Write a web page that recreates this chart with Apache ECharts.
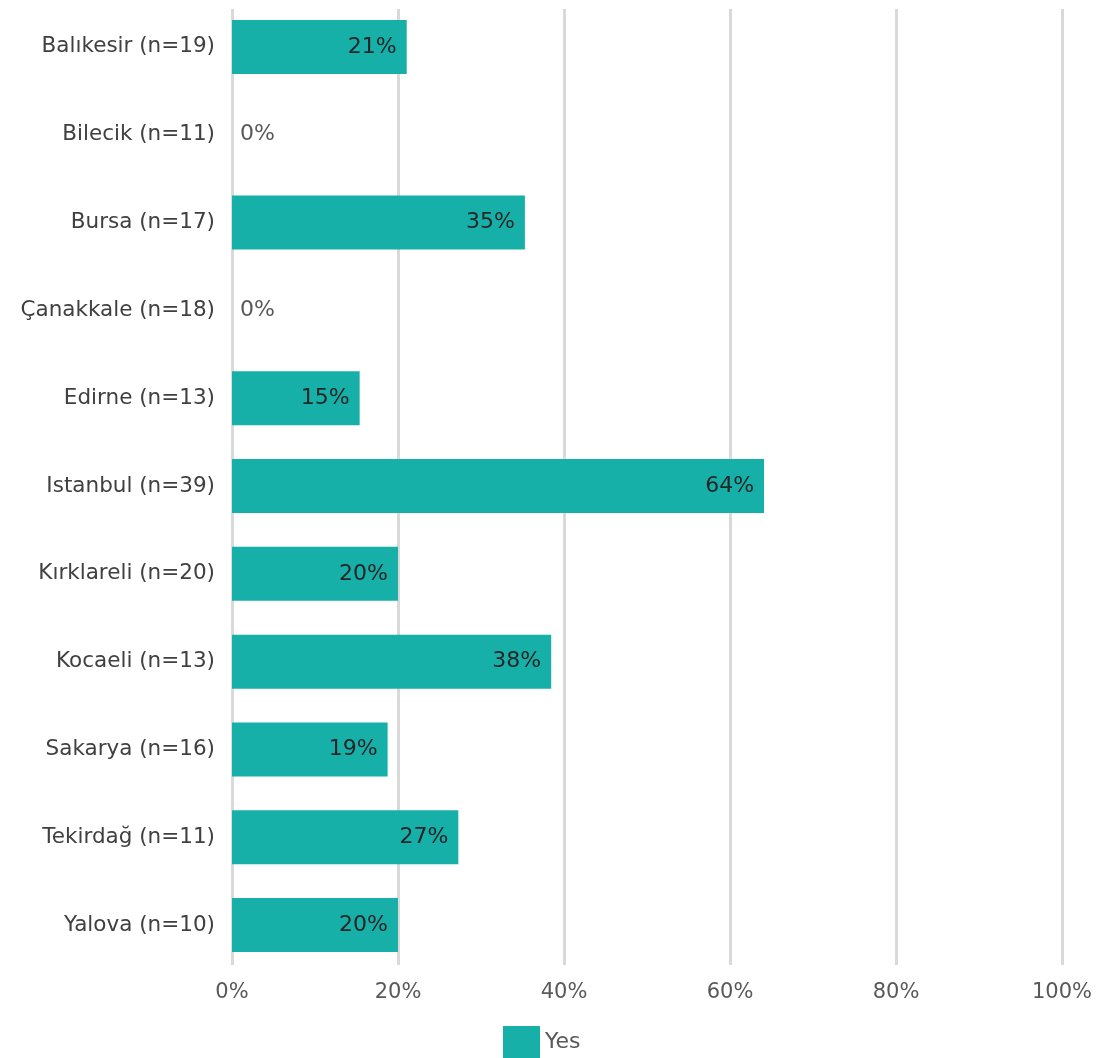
<!DOCTYPE html>
<html>
<head>
<meta charset="utf-8">
<script src="https://cdn.jsdelivr.net/npm/echarts@6/dist/echarts.min.js"></script>
<style>
  html, body { margin: 0; padding: 0; background: #ffffff; }
  #chart { width: 1102px; height: 1058px; }
</style>
</head>
<body>
<div id="chart"></div>
<script>
// Provinces with sample sizes, top to bottom
const provinces = [
  'Balıkesir (n=19)', 'Bilecik (n=11)', 'Bursa (n=17)', 'Çanakkale (n=18)',
  'Edirne (n=13)', 'Istanbul (n=39)', 'Kırklareli (n=20)', 'Kocaeli (n=13)',
  'Sakarya (n=16)', 'Tekirdağ (n=11)', 'Yalova (n=10)'
];
// Share answering "Yes", in percent
const yesShare = [21.05, 0, 35.29, 0, 15.38, 64.10, 20.00, 38.46, 18.75, 27.27, 20.00];
const seriesName = 'Yes';
const xTicks = [0, 20, 40, 60, 80, 100];

const FONT = 'DejaVu Sans';
const TEAL = '#17b0a9';

const barData = yesShare.map(v => v === 0
  ? { value: v, label: { position: 'right', color: '#595959', distance: 8 } }
  : { value: v });

const valueAxisBase = {
  type: 'value',
  min: xTicks[0],
  max: xTicks[xTicks.length - 1],
  interval: 20,
  axisLine: { show: false },
  axisTick: { show: false }
};

const chart = echarts.init(document.getElementById('chart'), null, { renderer: 'canvas' });
chart.setOption({
  animation: false,
  backgroundColor: '#ffffff',
  textStyle: { fontFamily: FONT },
  grid: [
    // gridlines and tick labels
    { left: 232, right: 40, top: 9, bottom: 93, containLabel: false },
    // bars and category labels
    { left: 232, right: 40, top: 3, bottom: 89, containLabel: false }
  ],
  xAxis: [
    Object.assign({}, valueAxisBase, {
      gridIndex: 0,
      splitLine: { show: true, lineStyle: { color: '#d9d9d9', width: 3 } },
      axisLabel: {
        color: '#595959', fontSize: 21, fontFamily: FONT, margin: 17,
        formatter: v => v + '%'
      }
    }),
    Object.assign({}, valueAxisBase, {
      gridIndex: 1,
      splitLine: { show: false },
      axisLabel: { show: false }
    })
  ],
  yAxis: [
    { type: 'category', gridIndex: 0, data: provinces, inverse: true, show: false },
    {
      type: 'category',
      gridIndex: 1,
      data: provinces,
      inverse: true,
      axisLine: { show: false },
      axisTick: { show: false },
      axisLabel: { color: '#404040', fontSize: 21.5, fontFamily: FONT, margin: 17 }
    }
  ],
  legend: {
    top: 1026,
    left: 503,
    padding: 0,
    itemWidth: 37,
    itemHeight: 32,
    itemGap: 8,
    icon: 'rect',
    textStyle: { color: '#595959', fontSize: 22, fontFamily: FONT },
    data: [seriesName]
  },
  series: [{
    name: seriesName,
    type: 'bar',
    xAxisIndex: 1,
    yAxisIndex: 1,
    data: barData,
    barCategoryGap: '38.5%',
    itemStyle: { color: TEAL },
    label: {
      show: true,
      position: 'insideRight',
      distance: 10,
      color: '#262626',
      fontSize: 22,
      fontFamily: FONT,
      formatter: p => Math.round(p.value) + '%'
    }
  }]
});
</script>
</body>
</html>
